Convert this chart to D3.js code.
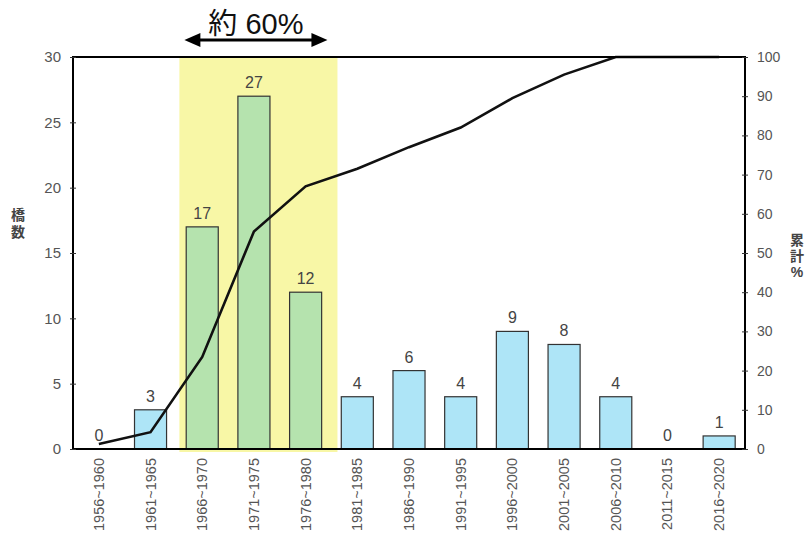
<!DOCTYPE html>
<html>
<head>
<meta charset="utf-8">
<script src="https://cdn.jsdelivr.net/npm/d3@7"></script>
<style>
  body { margin: 0; background: #fff; }
  text { font-family: "Liberation Sans", "Noto Sans CJK JP", sans-serif; }
</style>
</head>
<body>
<div class="canvas"></div>
<script>
// data
const periods = ['1956~1960', '1961~1965', '1966~1970', '1971~1975', '1976~1980', '1981~1985',
    '1986~1990', '1991~1995', '1996~2000', '2001~2005', '2006~2010', '2011~2015', '2016~2020'];
const counts = [0, 3, 17, 27, 12, 4, 6, 4, 9, 8, 4, 0, 1];
const cumPct = [1.3, 4.3, 23.5, 55.5, 67, 71.5, 77, 82, 89.5, 95.5, 100, 100, 100];
const highlighted = ['1966~1970', '1971~1975', '1976~1980'];
const leftTicks = [0, 5, 10, 15, 20, 25, 30];
const rightTicks = [0, 10, 20, 30, 40, 50, 60, 70, 80, 90, 100];

const dim = { width: 807, height: 538 };
const m = { left: 73, right: 62, top: 57, bottom: 89 };
const w = dim.width - m.left - m.right;
const h = dim.height - m.top - m.bottom;

const svg = d3.select('.canvas').append('svg')
    .attr('width', dim.width)
    .attr('height', dim.height);

const graph = svg.append('g').attr('transform', `translate(${m.left}, ${m.top})`);

const x = d3.scaleBand().domain(periods).range([0, w]).paddingInner(0.38).paddingOuter(0.19);
const xc = d => x(d) + x.bandwidth() / 2;
const y = d3.scaleLinear().domain([0, 30]).range([h, 0]);
const y2 = d3.scaleLinear().domain([0, 100]).range([h, 0]);

// yellow highlight band
const step = x.step();
const hx0 = xc(highlighted[0]) - step / 2 + 3;
const hx1 = xc(highlighted[highlighted.length - 1]) + step / 2 + 6;
graph.append('rect')
    .attr('x', hx0).attr('y', 0)
    .attr('width', hx1 - hx0).attr('height', h + 3)
    .attr('fill', '#f8f7a6');

// bars
graph.selectAll('rect.bar')
    .data(periods)
    .enter().append('rect')
    .attr('class', 'bar')
    .attr('x', d => x(d))
    .attr('y', (d, i) => y(counts[i]))
    .attr('width', x.bandwidth())
    .attr('height', (d, i) => h - y(counts[i]))
    .attr('fill', d => highlighted.includes(d) ? '#b5e3ae' : '#aee5f7')
    .attr('stroke', '#333')
    .attr('stroke-width', 1.2);

// value labels
graph.selectAll('text.val')
    .data(periods)
    .enter().append('text')
    .attr('class', 'val')
    .attr('x', d => xc(d))
    .attr('y', (d, i) => y(counts[i]) - 8)
    .attr('text-anchor', 'middle')
    .attr('font-size', 16)
    .attr('fill', '#444')
    .text((d, i) => counts[i]);

// cumulative line
const line = d3.line()
    .x((d, i) => xc(periods[i]))
    .y(d => y2(d));
graph.append('path')
    .datum(cumPct)
    .attr('d', line)
    .attr('fill', 'none')
    .attr('stroke', '#111')
    .attr('stroke-width', 2.6);

// frame
graph.append('rect')
    .attr('width', w).attr('height', h)
    .attr('fill', 'none')
    .attr('stroke', '#000')
    .attr('stroke-width', 2);

// left axis
const yAxis = d3.axisLeft(y).tickValues(leftTicks).tickSizeInner(6).tickSizeOuter(0).tickPadding(6);
const gy = graph.append('g').call(yAxis);
gy.select('.domain').remove();
gy.selectAll('line').attr('stroke', '#333').attr('transform', 'translate(3,0)');
gy.selectAll('text').attr('font-size', 15).attr('fill', '#555')
    .attr('font-family', '"Liberation Sans", sans-serif');

// right axis
const y2Axis = d3.axisRight(y2).tickValues(rightTicks).tickSizeInner(6).tickSizeOuter(0).tickPadding(6);
const gy2 = graph.append('g').attr('transform', `translate(${w}, 0)`).call(y2Axis);
gy2.select('.domain').remove();
gy2.selectAll('line').attr('stroke', '#333').attr('transform', 'translate(-3,0)');
gy2.selectAll('text').attr('font-size', 14).attr('fill', '#555')
    .attr('font-family', '"Liberation Sans", sans-serif');

// x labels, rotated
graph.selectAll('text.xl')
    .data(periods)
    .enter().append('text')
    .attr('class', 'xl')
    .attr('transform', d => `translate(${xc(d) + 5}, ${h + 9}) rotate(-90)`)
    .attr('text-anchor', 'end')
    .attr('font-size', 14.5)
    .attr('fill', '#555')
    .text(d => d);

// axis titles (vertical, upright characters)
const leftTitle = svg.append('text')
    .attr('x', 18).attr('y', 220)
    .attr('text-anchor', 'middle')
    .attr('font-size', 14).attr('font-weight', 'bold').attr('fill', '#444');
['橋', '数'].forEach((c, i) => leftTitle.append('tspan').attr('x', 18).attr('dy', i ? 17 : 0).text(c));

const rightTitle = svg.append('text')
    .attr('x', 797).attr('y', 245)
    .attr('text-anchor', 'middle')
    .attr('font-size', 14).attr('font-weight', 'bold').attr('fill', '#444');
['累', '計', '%'].forEach((c, i) => rightTitle.append('tspan').attr('x', 797).attr('dy', i ? 16 : 0).text(c));

// annotation: double arrow with label
const ax0 = m.left + hx0 + 5, ax1 = m.left + hx1 - 10, ay = 40;
svg.append('line')
    .attr('x1', ax0 + 12).attr('x2', ax1 - 12)
    .attr('y1', ay).attr('y2', ay)
    .attr('stroke', '#000').attr('stroke-width', 3);
svg.append('path')
    .attr('d', `M${ax0},${ay} L${ax0 + 16},${ay - 7} L${ax0 + 16},${ay + 7} Z`)
    .attr('fill', '#000');
svg.append('path')
    .attr('d', `M${ax1},${ay} L${ax1 - 16},${ay - 7} L${ax1 - 16},${ay + 7} Z`)
    .attr('fill', '#000');
svg.append('text')
    .attr('x', (ax0 + ax1) / 2).attr('y', 34)
    .attr('text-anchor', 'middle')
    .attr('font-size', 29)
    .attr('fill', '#111')
    .attr('font-family', '"Noto Sans CJK JP", sans-serif')
    .text('約 60%');
</script>
</body>
</html>
